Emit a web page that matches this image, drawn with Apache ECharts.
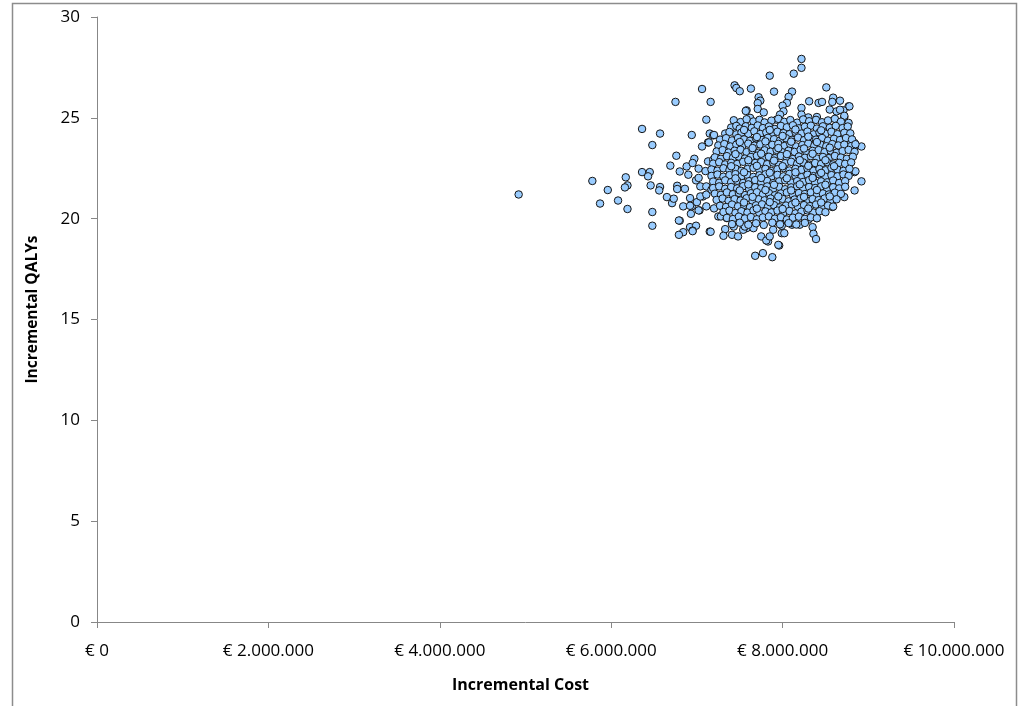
<!DOCTYPE html>
<html>
<head>
<meta charset="utf-8">
<title>Incremental cost-effectiveness plane</title>
<script src="https://cdn.jsdelivr.net/npm/echarts@6/dist/echarts.min.js"></script>
<style>
  html, body { margin: 0; padding: 0; background: #fff; }
  #chart { width: 1023px; height: 706px; }
</style>
</head>
<body>
<div id="chart"></div>
<script>
// Simulation results: [incremental cost in € million, incremental QALYs]
const leftTail = [
  [4.92,21.2],[5.78,21.87],[5.96,21.42],[5.87,20.75],[6.08,20.9],[6.19,20.48],[6.17,22.05],[6.19,21.65],
  [6.16,21.55],[6.36,24.45],[6.48,23.65],[6.57,24.22],[6.36,22.31],[6.45,22.31],[6.43,22.1],[6.46,21.65],
  [6.57,21.57],[6.56,21.4],[6.65,21.07],[6.71,20.77],[6.73,20.99],[6.48,20.33],[6.48,19.65],[6.69,22.63],
  [6.76,23.12],[6.8,22.34],[6.77,21.63],[6.77,21.47],[6.86,21.48],[6.92,21.02],[6.84,20.61],[6.94,20.61],
  [6.93,20.24],[6.8,19.9],[6.84,19.33],[6.79,19.2],[6.92,19.58],[6.99,19.65],[6.95,19.41],[7.15,19.36],
  [6.88,22.59],[6.97,22.97],[6.9,22.18],[7.02,22.48],[6.99,21.9],[7.0,20.82],[7.03,20.41],[7.07,21.1],
  [7.25,20.11],[6.94,24.15],[7.15,24.22],[7.19,24.13],[7.13,23.78],[7.06,23.58],[7.14,23.78],[7.2,24.15],
  [7.29,23.88],[7.34,23.34],[6.95,22.76],[7.1,22.36],[7.13,22.84],[7.19,22.92],[7.02,22.02],[7.04,21.6],
  [7.11,21.6],[7.04,21.1],[7.11,21.19],[7.17,21.44],[6.92,20.64],[7.11,20.61],[7.2,20.51],[7.02,20.41],
  [6.79,19.91],[6.95,19.38],[7.16,19.35],[7.28,20.11],[7.35,20.03]
];

const upperFringe = [
  [7.06,26.43],[6.75,25.79],[7.16,25.79],[7.11,24.91],[8.22,27.92],[8.22,27.48],[8.13,27.19],[7.85,27.09],
  [7.44,26.61],[7.46,26.48],[7.5,26.32],[7.63,26.45],[7.9,26.3],[8.11,26.3],[8.51,26.51],[7.72,26.02],
  [7.74,25.85],[7.71,25.73],[8.07,26.04],[8.05,25.74],[8.31,25.82],[8.59,26.0],[8.67,25.85],[8.58,25.79],
  [8.77,25.57],[8.42,25.74],[8.46,25.79],[7.58,25.37],[7.62,25.0],[7.71,25.44],[7.78,25.27],[8.0,25.6],
  [8.01,25.32],[8.22,25.49],[8.22,25.16],[8.55,25.41],[8.63,25.32],[8.71,25.37],[8.72,25.04],[8.3,25.02],
  [8.4,25.04],[7.77,24.75],[7.85,24.58],[7.93,24.91],[7.97,25.16],[7.57,25.34],[8.67,25.4],[8.72,25.1],
  [8.78,25.57]
];

const rightFringe = [
  [8.92,23.58],[8.84,23.75],[8.77,23.67],[8.83,23.5],[8.84,22.31],[8.75,22.46],[8.92,21.85],[8.84,21.4],
  [8.72,21.07],[8.67,21.44],[8.57,20.69],[8.58,20.58],[8.7,24.25],[8.75,24.41],[8.77,24.75],[8.85,22.35]
];

const lowerFringe = [
  [7.68,18.16],[7.77,18.29],[7.88,18.09],[7.96,18.67],[7.75,19.12],[7.83,18.87],[7.33,19.48],[7.31,19.15],
  [7.41,19.2],[7.48,19.12],[8.35,19.58],[8.36,19.25],[8.39,18.99],[7.99,19.65],[8.11,19.7],[7.89,19.45],
  [7.99,19.28],[7.58,19.53],[7.66,19.53],[7.81,18.92],[7.95,18.7],[7.85,19.12],[8.3,19.95],[8.4,20.03],
  [8.02,19.28],[7.54,19.45],[7.43,19.61],[7.97,19.78],[8.12,19.78],[8.2,19.7],[7.56,19.61]
];

const core = [
  [7.43,24.88],[7.51,24.79],[7.58,24.93],[7.66,24.82],[7.73,24.9],[7.79,24.77],[7.87,24.86],[7.95,24.95],
  [8.02,24.8],[8.09,24.89],[8.17,24.76],[8.24,24.92],[8.31,24.83],[8.39,24.9],[8.46,24.78],[8.53,24.87],
  [8.61,24.95],[8.68,24.81],
  [7.4,24.52],[7.46,24.6],[7.5,24.47],[7.57,24.58],[7.64,24.5],[7.71,24.62],[7.77,24.49],[7.84,24.57],
  [7.91,24.45],[7.98,24.6],[8.05,24.53],[8.12,24.63],[8.19,24.48],[8.26,24.56],[8.33,24.61],[8.4,24.47],
  [8.47,24.58],[8.55,24.51],[8.62,24.6],[8.7,24.49],[8.76,24.57],
  [7.33,24.22],[7.38,24.3],[7.46,24.18],[7.52,24.27],[7.6,24.21],[7.67,24.33],[7.74,24.2],[7.81,24.28],
  [7.88,24.17],[7.94,24.31],[8.01,24.24],[8.08,24.19],[8.15,24.3],[8.22,24.22],[8.29,24.32],[8.36,24.18],
  [8.43,24.27],[8.5,24.21],[8.57,24.31],[8.64,24.19],[8.72,24.26],[8.79,24.23],
  [7.27,23.92],[7.34,23.99],[7.41,23.88],[7.48,24.0],[7.55,23.93],[7.62,23.86],[7.69,23.98],[7.76,23.9],
  [7.83,24.01],[7.9,23.94],[7.97,23.87],[8.04,23.99],[8.11,23.91],[8.18,24.02],[8.25,23.89],[8.32,23.97],
  [8.39,23.92],[8.46,24.0],[8.53,23.87],[8.6,23.96],[8.67,23.9],[8.74,24.0],[8.81,23.93],
  [7.25,23.63],[7.32,23.7],[7.39,23.58],[7.46,23.67],[7.53,23.6],[7.6,23.72],[7.67,23.62],[7.74,23.68],
  [7.81,23.57],[7.88,23.66],[7.95,23.71],[8.02,23.6],[8.09,23.69],[8.16,23.58],[8.23,23.65],[8.3,23.73],
  [8.37,23.61],[8.44,23.68],[8.51,23.59],[8.58,23.7],[8.65,23.63],[8.72,23.67],[8.8,23.6],[8.85,23.69],
  [7.23,23.33],[7.3,23.4],[7.37,23.28],[7.44,23.37],[7.51,23.42],[7.58,23.3],[7.65,23.36],[7.72,23.27],
  [7.79,23.39],[7.86,23.32],[7.93,23.41],[8.0,23.29],[8.07,23.37],[8.14,23.31],[8.21,23.42],[8.28,23.28],
  [8.35,23.36],[8.42,23.4],[8.49,23.3],[8.56,23.38],[8.63,23.27],[8.7,23.35],[8.77,23.41],[8.84,23.31],
  [7.21,23.04],[7.28,22.97],[7.35,23.1],[7.42,23.01],[7.49,23.08],[7.56,22.98],[7.63,23.06],[7.7,23.12],
  [7.77,22.99],[7.84,23.07],[7.91,23.0],[7.98,23.11],[8.05,23.03],[8.12,22.96],[8.19,23.08],[8.26,23.02],
  [8.33,23.1],[8.4,22.98],[8.47,23.06],[8.54,23.0],[8.61,23.11],[8.68,23.03],[8.75,22.97],[8.82,23.07],
  [7.19,22.73],[7.26,22.8],[7.33,22.69],[7.4,22.77],[7.47,22.71],[7.54,22.82],[7.61,22.68],[7.68,22.76],
  [7.75,22.81],[7.82,22.7],[7.89,22.78],[7.96,22.67],[8.03,22.75],[8.1,22.82],[8.17,22.72],[8.24,22.79],
  [8.31,22.68],[8.38,22.76],[8.45,22.71],[8.52,22.8],[8.59,22.69],[8.66,22.77],[8.73,22.72],[8.8,22.79],
  [7.17,22.44],[7.24,22.38],[7.31,22.5],[7.38,22.41],[7.45,22.48],[7.52,22.37],[7.59,22.46],[7.66,22.52],
  [7.73,22.4],[7.8,22.47],[7.87,22.36],[7.94,22.45],[8.01,22.51],[8.08,22.39],[8.15,22.47],[8.22,22.42],
  [8.29,22.5],[8.36,22.38],[8.43,22.46],[8.5,22.4],[8.57,22.52],[8.64,22.43],[8.71,22.37],[8.78,22.47],
  [7.17,22.12],[7.24,22.19],[7.31,22.08],[7.38,22.16],[7.45,22.21],[7.52,22.1],[7.59,22.17],[7.66,22.07],
  [7.73,22.15],[7.8,22.2],[7.87,22.09],[7.94,22.17],[8.01,22.1],[8.08,22.22],[8.15,22.13],[8.22,22.06],
  [8.29,22.18],[8.36,22.11],[8.43,22.2],[8.5,22.08],[8.57,22.16],[8.64,22.1],[8.71,22.19],[8.77,22.12],
  [7.19,21.84],[7.26,21.78],[7.33,21.9],[7.4,21.81],[7.47,21.88],[7.54,21.77],[7.61,21.86],[7.68,21.91],
  [7.75,21.8],[7.82,21.87],[7.89,21.76],[7.96,21.85],[8.03,21.9],[8.1,21.79],[8.17,21.86],[8.24,21.82],
  [8.31,21.91],[8.38,21.78],[8.45,21.85],[8.52,21.8],[8.59,21.89],[8.66,21.77],[8.73,21.86],
  [7.19,21.52],[7.26,21.6],[7.33,21.48],[7.4,21.57],[7.47,21.5],[7.54,21.61],[7.61,21.47],[7.68,21.56],
  [7.75,21.51],[7.82,21.6],[7.89,21.49],[7.96,21.58],[8.03,21.46],[8.1,21.55],[8.17,21.61],[8.24,21.49],
  [8.31,21.57],[8.38,21.52],[8.45,21.6],[8.52,21.47],[8.59,21.56],[8.66,21.5],[8.73,21.58],
  [7.21,21.24],[7.28,21.18],[7.35,21.3],[7.42,21.21],[7.49,21.28],[7.56,21.17],[7.63,21.26],[7.7,21.31],
  [7.77,21.2],[7.84,21.27],[7.91,21.16],[7.98,21.25],[8.05,21.3],[8.12,21.19],[8.19,21.27],[8.26,21.22],
  [8.33,21.3],[8.4,21.17],[8.47,21.25],[8.54,21.2],[8.61,21.29],[8.68,21.23],
  [7.23,20.93],[7.3,21.0],[7.37,20.88],[7.44,20.97],[7.51,20.9],[7.58,21.01],[7.65,20.87],[7.72,20.96],
  [7.79,20.91],[7.86,21.0],[7.93,20.89],[8.0,20.98],[8.07,20.86],[8.14,20.95],[8.21,21.01],[8.28,20.89],
  [8.35,20.97],[8.42,20.92],[8.49,21.0],[8.56,20.88],[8.63,20.96],
  [7.27,20.64],[7.34,20.58],[7.41,20.7],[7.48,20.61],[7.55,20.68],[7.62,20.57],[7.69,20.66],[7.76,20.71],
  [7.83,20.6],[7.9,20.67],[7.97,20.56],[8.04,20.65],[8.11,20.7],[8.18,20.59],[8.25,20.67],[8.32,20.62],
  [8.39,20.7],[8.46,20.57],[8.53,20.65],[8.59,20.6],
  [7.31,20.33],[7.38,20.4],[7.45,20.28],[7.52,20.37],[7.59,20.3],[7.66,20.41],[7.73,20.27],[7.8,20.36],
  [7.87,20.31],[7.94,20.4],[8.01,20.29],[8.08,20.38],[8.15,20.26],[8.22,20.35],[8.29,20.41],[8.36,20.3],
  [8.43,20.37],[8.5,20.32],
  [7.35,20.04],[7.42,19.98],[7.49,20.1],[7.56,20.01],[7.63,20.08],[7.7,19.97],[7.77,20.06],[7.84,20.11],
  [7.91,20.0],[7.98,20.07],[8.05,19.96],[8.12,20.05],[8.19,20.1],[8.26,19.99],[8.33,20.06],[8.4,20.02],
  [7.41,19.73],[7.5,19.8],[7.6,19.7],[7.69,19.77],[7.78,19.69],[7.88,19.8],[7.97,19.72],[8.07,19.78],
  [8.16,19.71],[8.26,19.79],
  [7.55,24.4],[7.7,24.05],[7.85,24.4],[8.0,24.1],[8.15,24.42],[8.3,24.07],[8.45,24.38],
  [7.5,23.8],[7.65,23.5],[7.8,23.83],[7.95,23.5],[8.1,23.82],[8.25,23.48],[8.4,23.8],[8.55,23.52],
  [7.45,23.2],[7.6,22.9],[7.75,23.22],[7.9,22.88],[8.05,23.2],[8.2,22.9],[8.35,23.22],[8.5,22.9],
  [7.4,22.6],[7.55,22.3],[7.7,22.62],[7.85,22.28],[8.0,22.6],[8.15,22.3],[8.3,22.62],[8.45,22.27],[8.6,22.6],
  [7.45,22.0],[7.6,21.7],[7.75,22.02],[7.9,21.68],[8.05,22.0],[8.2,21.7],[8.35,22.02],[8.5,21.68],
  [7.5,21.4],[7.65,21.08],[7.8,21.42],[7.95,21.1],[8.1,21.4],[8.25,21.08],[8.4,21.42],[8.55,21.1],
  [7.55,20.8],[7.7,20.5],[7.85,20.82],[8.0,20.48],[8.15,20.8],[8.3,20.5],[8.45,20.8]
];

// Axis ticks
const costTicks = [0, 2, 4, 6, 8, 10];      // € million
const qalyTicks = [0, 5, 10, 15, 20, 25, 30];

const points = leftTail.concat(upperFringe, rightFringe, lowerFringe, core);

function euro(millions) {
  const n = Math.round(millions * 1e6);
  return '€ ' + String(n).replace(/\B(?=(\d{3})+(?!\d))/g, '.');
}

const FONT = '"Open Sans", Lato, sans-serif';
const AXIS_GREY = '#878787';

const chart = echarts.init(document.getElementById('chart'), null, { renderer: 'canvas' });
chart.setOption({
  animation: false,
  backgroundColor: '#ffffff',
  textStyle: { fontFamily: FONT },
  graphic: [{
    type: 'rect',
    silent: true,
    shape: { x: 12.5, y: 3.5, width: 1004, height: 740 },
    style: { fill: 'none', stroke: '#8c8c8c', lineWidth: 1.5 }
  }],
  grid: { left: 97, right: 69, top: 17, bottom: 84, containLabel: false },
  xAxis: {
    type: 'value',
    min: costTicks[0],
    max: costTicks[costTicks.length - 1],
    interval: costTicks[1] - costTicks[0],
    name: 'Incremental Cost',
    nameLocation: 'middle',
    nameGap: 55,
    nameTextStyle: { fontFamily: FONT, fontWeight: 'bold', fontSize: 16, color: '#000', padding: [0, 10, 0, 0] },
    axisLine: { show: true, lineStyle: { color: AXIS_GREY, width: 1 } },
    axisTick: { show: true, inside: false, length: 6, lineStyle: { color: AXIS_GREY } },
    axisLabel: { formatter: euro, fontSize: 17, color: '#000', margin: 21, fontFamily: FONT },
    splitLine: { show: false }
  },
  yAxis: {
    type: 'value',
    min: qalyTicks[0],
    max: qalyTicks[qalyTicks.length - 1],
    interval: qalyTicks[1] - qalyTicks[0],
    name: 'Incremental QALYs',
    nameLocation: 'middle',
    nameGap: 56,
    nameRotate: 90,
    nameTextStyle: { fontFamily: FONT, fontWeight: 'bold', fontSize: 15.5, color: '#000', padding: [0, 0, 0, 20] },
    axisLine: { show: true, lineStyle: { color: AXIS_GREY, width: 1 } },
    axisTick: { show: true, inside: false, length: 6, lineStyle: { color: AXIS_GREY } },
    axisLabel: { fontSize: 17, color: '#000', margin: 17, fontFamily: FONT },
    splitLine: { show: false }
  },
  series: [{
    type: 'scatter',
    data: points,
    symbol: 'circle',
    symbolSize: 7.5,
    itemStyle: { color: '#99CCFF', borderColor: '#151515', borderWidth: 1, opacity: 1 },
    emphasis: { disabled: true }
  }]
});
</script>
</body>
</html>
